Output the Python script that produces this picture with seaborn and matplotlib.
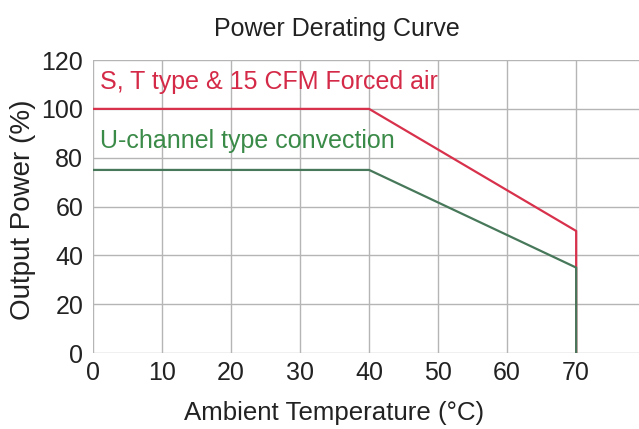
import matplotlib
matplotlib.use("Agg")
import matplotlib.pyplot as plt
import seaborn as sns
import pandas as pd

# Data
temp_forced = [0, 40, 70, 70]
power_forced = [100, 100, 50, 0]
temp_conv = [0, 40, 70, 70]
power_conv = [75, 75, 35, 0]
label_forced = "S, T type & 15 CFM Forced air"
label_conv = "U-channel type convection"
x_ticks = [0, 10, 20, 30, 40, 50, 60, 70]
y_ticks = [0, 20, 40, 60, 80, 100, 120]

sns.set_theme(style="whitegrid")
plt.rcParams['font.family'] = ['Liberation Sans', 'DejaVu Sans']

fig = plt.figure(figsize=(6.39, 4.29), dpi=100)
ax = fig.add_axes([0.1455, 0.177, 0.8545, 0.683])

df_f = pd.DataFrame({"t": temp_forced, "p": power_forced})
df_c = pd.DataFrame({"t": temp_conv, "p": power_conv})

red = "#d8314c"
green = "#47785a"
sns.lineplot(data=df_f, x="t", y="p", sort=False, estimator=None, color=red, lw=1.6, ax=ax)
sns.lineplot(data=df_c, x="t", y="p", sort=False, estimator=None, color=green, lw=1.6, ax=ax)

ax.set_xlim(0, 79.1)
ax.set_ylim(0, 120)
ax.set_xticks(x_ticks)
ax.set_yticks(y_ticks)
ax.grid(True, color="#b5b5b5", lw=1)
for s in ax.spines.values():
    s.set_visible(False)
ax.tick_params(axis="both", length=0, labelsize=18, colors="#222222")
ax.tick_params(axis="x", pad=6)
ax.tick_params(axis="y", pad=7)

ax.set_xlabel("Ambient Temperature (°C)", fontsize=18.6, color="#222222")
ax.xaxis.set_label_coords((334 - 93) / 546, -(401 - 353) / 293)
ax.set_ylabel("Output Power (%)", fontsize=20, color="#222222")
ax.yaxis.set_label_coords((36 - 93) / 546, (353 - 209.5) / 293)

fig.text(337 / 639, 1 - 36 / 429, "Power Derating Curve", fontsize=18, color="#222222",
         ha="center", va="baseline")

ax.text(1.0, 111, label_forced, color="#d42a48", fontsize=18, va="center", ha="left")
ax.text(1.0, 87, label_conv, color="#3a8a48", fontsize=18, va="center", ha="left")

fig.savefig("out.png", dpi=100)
